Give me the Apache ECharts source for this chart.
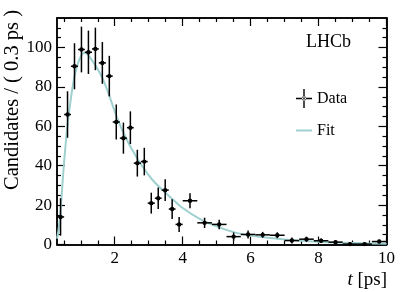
<!DOCTYPE html>
<html>
<head>
<meta charset="utf-8">
<script src="https://cdn.jsdelivr.net/npm/echarts@6/dist/echarts.min.js"></script>
<style>html,body{margin:0;padding:0;background:#fff;}#c{width:407px;height:292px;}</style>
</head>
<body>
<div id="c"></div>
<script>
const binEdges = [0.30,0.51,0.71,0.92,1.12,1.33,1.53,1.74,1.94,2.15,2.36,2.56,2.77,2.97,3.18,3.38,3.59,3.79,4.00,4.43,4.86,5.29,5.71,6.14,6.57,7.00,7.43,7.86,8.29,8.71,9.14,9.57,10.00];
const counts = [14,66,90.5,99,97.6,99.3,92.2,85.5,62.2,54,59.3,41.3,42.1,21,23.5,27.6,18,10.2,22.2,11,10.2,4,5.1,4.9,4.7,2,2.7,1.9,1.2,0.2,0.2,1.5];
const errors = [9.5,11.8,11.7,11.6,11,10.8,10.6,10.3,8.9,7.9,8.3,6.8,7,5.3,5.5,5.5,5,3.8,3.8,2.6,2.4,2.1,2,1.5,1.5,1.5,1.3,1.1,0.9,0.8,0.8,0.9];
const fitT = [0.30,0.35,0.40,0.45,0.50,0.55,0.60,0.70,0.80,0.90,1.00,1.10,1.20,1.35,1.50,1.65,1.80,1.95,2.10,2.25,2.50,2.80,3.10,3.40,3.70,4.00,4.50,5.00,5.50,6.00,6.50,7.00,7.50,8.00,8.50,9.00,9.50,10.00];
const fitY = [3,8,16,28,40,50,59,73,84,91,95.5,97.3,96.5,93,89,84,77.5,70,63,57,48.5,40,33,27.8,23,18.5,13,9.2,6.3,4.5,3.4,2.6,1.9,1.4,1.0,0.75,0.55,0.4];
const xMajor = [2,4,6,8,10];
const xMinor = [0.5,1,1.5,2.5,3,3.5,4.5,5,5.5,6.5,7,7.5,8.5,9,9.5];
const yMajor = [0,20,40,60,80,100];
const yMinor = [5,10,15,25,30,35,45,50,55,65,70,75,85,90,95,105,110];

const FONT = 'Liberation Serif';
const dataPts = counts.map((v,i)=>[(binEdges[i]+binEdges[i+1])/2, v, errors[i], binEdges[i], binEdges[i+1]]);
const fitPts = fitT.map((t,i)=>[t, fitY[i]]);

function xAx(pos, ticks, len, label){
  return {type:'value', gridIndex:0, position:pos, min:0.3, max:10,
    axisLine:{show:true, onZero:false, lineStyle:{color:'#000', width:1.5}},
    axisTick:{show:true, inside:true, length:len, customValues:ticks, lineStyle:{color:'#000', width:1.2}},
    axisLabel:{show:label, customValues:xMajor, color:'#000', fontFamily:FONT, fontSize:17, margin:6},
    splitLine:{show:false}};
}
function yAx(pos, ticks, len, label){
  return {type:'value', gridIndex:0, position:pos, min:0, max:115,
    axisLine:{show:true, onZero:false, lineStyle:{color:'#000', width:1.5}},
    axisTick:{show:true, inside:true, length:len, customValues:ticks, lineStyle:{color:'#000', width:1.2}},
    axisLabel:{show:label, customValues:yMajor, color:'#000', fontFamily:FONT, fontSize:17, margin:5},
    splitLine:{show:false}};
}

const chart = echarts.init(document.getElementById('c'), null, {renderer:'canvas'});
chart.setOption({
  animation:false,
  backgroundColor:'#fff',
  grid:{left:57, right:20.5, top:18, bottom:47.5, containLabel:false},
  xAxis:[xAx('bottom', xMajor, 8, true), xAx('bottom', xMinor, 4, false), xAx('top', xMajor, 8, false), xAx('top', xMinor, 4, false)],
  yAxis:[yAx('left', yMajor, 8, true), yAx('left', yMinor, 4, false), yAx('right', yMajor, 8, false), yAx('right', yMinor, 4, false)],
  legend:{orient:'vertical', left:291, top:84, itemWidth:16, itemHeight:19, itemGap:14.5,
    textStyle:{fontFamily:FONT, fontSize:16, color:'#000'},
    data:[
      {name:'Data', icon:'path://M7.3,0H8.7V19H7.3Z M0,8.8H16V10.2H0Z M5.8,9.5a2.2,2.2 0 1,0 4.4,0a2.2,2.2 0 1,0 -4.4,0Z', itemStyle:{color:'#000'}},
      {name:'Fit', icon:'path://M0,0H16V2H0Z', itemStyle:{color:'#9fd0d0'}}
    ]},
  graphic:[
    {type:'text', x:306, y:33, style:{text:'LHCb', font:'18px "Liberation Serif"', fill:'#000'}},
    {type:'text', x:13, y:10, rotation:Math.PI/2, style:{text:'Candidates / ( 0.3 ps )', font:'20.5px "Liberation Serif"', fill:'#000', textAlign:'right', textVerticalAlign:'middle'}},
    {type:'text', x:387, y:280, style:{text:'{i|t} [ps]', fill:'#000', textAlign:'right', textVerticalAlign:'middle', font:'19px "Liberation Serif"', rich:{i:{fontStyle:'italic', fontFamily:FONT, fontSize:19}}}}
  ],
  series:[
    {name:'Fit', type:'line', xAxisIndex:0, yAxisIndex:0, data:fitPts, smooth:0.3, showSymbol:false, symbol:'none',
      color:'#9fd0d0', lineStyle:{color:'#9fd0d0', width:2}, z:2},
    {name:'Data', type:'custom', xAxisIndex:0, yAxisIndex:0, data:dataPts, z:5, color:'#000',
      encode:{x:0, y:1},
      renderItem:function(params, api){
        const x = api.value(0), y = api.value(1), e = api.value(2), lo = api.value(3), hi = api.value(4);
        const c = api.coord([x, y]);
        const t = api.coord([x, Math.min(115, y+e)]);
        const b = api.coord([x, Math.max(0, y-e)]);
        const l = api.coord([lo, y]);
        const r = api.coord([hi, y]);
        const st = {stroke:'#000', lineWidth:1.5};
        return {type:'group', children:[
          {type:'line', shape:{x1:c[0], y1:t[1], x2:c[0], y2:b[1]}, style:st},
          {type:'line', shape:{x1:l[0], y1:c[1], x2:r[0], y2:c[1]}, style:st},
          {type:'circle', shape:{cx:c[0], cy:c[1], r:2.2}, style:{fill:'#000'}}
        ]};
      }}
  ]
});
</script>
</body>
</html>
